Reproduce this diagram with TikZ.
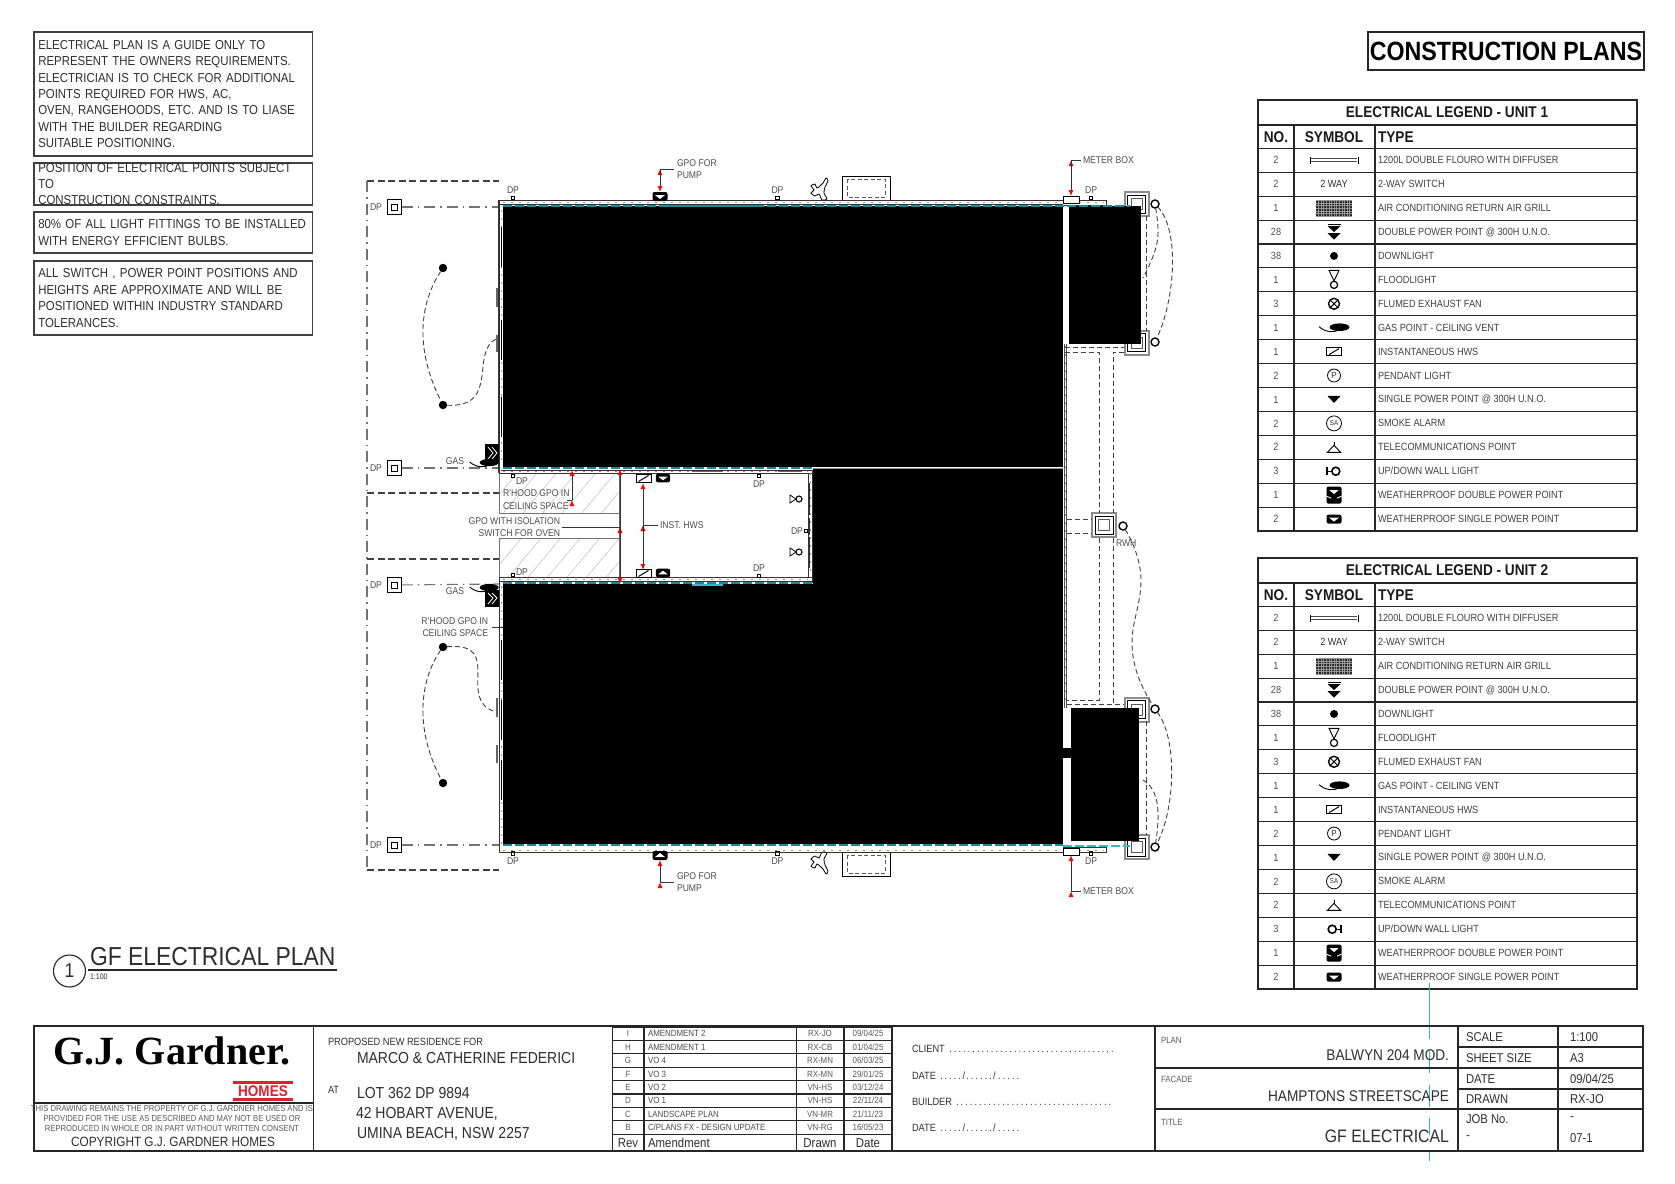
\documentclass[tikz,border=0pt]{standalone}
\usepackage{fontspec}
\setmainfont[FakeStretch=0.88]{Liberation Sans}
\newfontfamily\logofont{Liberation Serif}
\usetikzlibrary{arrows.meta,patterns.meta}
\definecolor{wallteal}{HTML}{1B8A9E}
\definecolor{liteteal}{HTML}{35B8C8}
\definecolor{wallbrown}{HTML}{B98A6A}
\definecolor{logored}{HTML}{E2202C}
\newcommand{\fsz}[1]{\fontsize{#1}{#1}\selectfont}
\newcommand{\dts}[1]{\hbox to #1pt{\dotfill}}
\tikzset{
   every node/.style={inner sep=0pt, outer sep=0pt, text=black!82},
   notebox/.style={draw=black!75, line width=1.2, anchor=north west, align=left,
      minimum width=278.5pt, text width=270pt, inner xsep=4.2pt,
      font=\fontsize{13}{16.4}\selectfont},
   tblline/.style={draw=black!85, line width=1.1},
   thinline/.style={draw=black!85, line width=.9},
   plantext/.style={font=\fsz{9.8}, text=black!70, align=left},
   dplabel/.style={font=\fsz{9.8}, text=black!70},
   dpbox/.style={draw, line width=.9, minimum size=3.5pt},
   dotnode/.style={circle, fill=black, minimum size=8.4pt},
   rwnode/.style={circle, draw, line width=1.4, fill=white, minimum size=8pt},
   yardbox/.style={draw, line width=1, minimum size=14.5pt},
   wiredash/.style={black!75, line width=.9, dash pattern=on 5pt off 3pt},
   yarddash/.style={black!75, line width=1.1, dash pattern=on 7pt off 3.5pt},
   yarddot/.style={black!55, line width=1.1, dash pattern=on 11pt off 5pt on 1.5pt off 5pt},
   walldash/.style={wallbrown, line width=.5, dash pattern=on 2pt off 6pt},
   tealdash/.style={wallteal, line width=1.5, dash pattern=on 9pt off 3pt},
   wall/.style={black!80, line width=.9},
   leader/.style={black!80, line width=1},
   redtip/.style={draw=black!80, line width=1, -{Latex[red,length=6pt,width=5pt]}},
   cellsmall/.style={font=\fsz{9}, text=black!65},
   hatchroom/.style={pattern={Lines[angle=50,distance=15pt,line width=.4pt]}, pattern color=black!30, draw=black!55, line width=.6},
   flouro/.pic={
      \draw[black!70, line width=.9] (-23,-1.5) -- (23,-1.5) (-23,1.5) -- (23,1.5);
      \draw[line width=.9] (-24,-3.5) -- (-24,3.5) (24,-3.5) -- (24,3.5);},
   twoway/.pic={\node (twowaytxt) [font=\fsz{10.4}] {2 WAY};},
   grill/.pic={
      \fill[black!85] (-18,-8) rectangle (18,8);
      \draw[black!40, line width=.3, step=2.6pt] (-18,-8) grid (18,8);},
   dblpower/.pic={
      \fill (-6.5,-8) rectangle (6.5,-7);
      \fill (-6.5,-6) -- (6.5,-6) -- (0,0) -- cycle;
      \fill (-6.5,1) -- (6.5,1) -- (0,7.5) -- cycle;},
   downlight/.pic={\fill (0,0) circle (4);},
   floodlight/.pic={
      \draw[line width=.9] (-5,-9.5) -- (5,-9.5) -- (0,1) -- cycle;
      \draw[line width=1.2] (0,5) circle (3.6);},
   fluefan/.pic={
      \draw[line width=1.4] (0,0) circle (5.5);
      \draw[line width=1] (-3.5,-3.5) -- (3.5,3.5) (-3.5,3.5) -- (3.5,-3.5);},
   gaspt/.pic={
      \fill (5.5,-.5) ellipse (10 and 3.8);
      \draw[line width=.9] (-15,-1) .. controls (-8,5) and (0,5) .. (6,2);},
   hws/.pic={
      \draw[line width=1] (-7.5,-4) rectangle (7.5,4);
      \draw[line width=1] (-5,3) -- (5,-3);},
   pendant/.pic={
      \draw[line width=.8] (0,0) circle (6.5);
      \node (pendanttxt) [font=\fsz{9}] {P};},
   singlept/.pic={\fill (-6.5,-3.5) -- (6.5,-3.5) -- (0,3.5) -- cycle;},
   smokept/.pic={
      \draw[line width=.8] (0,0) circle (7.5);
      \node (smoketxt) [font=\fsz{7}] {SA};},
   telept/.pic={
      \draw[line width=.9] (-6.5,5) -- (6.5,5) -- (0,-2) -- cycle;
      \draw[line width=.9] (0,-2) -- (0,-5);},
   walllight/.pic={
      \begin{scope}[xscale=\wallflip]
      \draw[line width=1.6] (1.8,0) circle (4);
      \draw[line width=1.1] (-7,-4) -- (-7,4) (-7,0) -- (-2,0);
      \end{scope}},
   wpdouble/.pic={
      \fill[rounded corners=2] (-7.5,-8.5) rectangle (7.5,8.5);
      \fill[white] (-4.5,-5) -- (4.5,-5) -- (0,-1) -- cycle;
      \fill[white] (-7.5,.5) -- (-3,2.5) -- (-3,3.5) -- (-7.5,1.5) -- cycle;
      \fill[white] (7.5,.5) -- (3,2.5) -- (3,3.5) -- (7.5,1.5) -- cycle;},
   wpsingle/.pic={
      \fill[rounded corners=2] (-7.5,-4.5) rectangle (7.5,4.5);
      \fill[white] (-5,-1.5) -- (5,-1.5) -- (0,2.5) -- cycle;},
   tapmark/.pic={
      \draw[line width=.8] plot[smooth cycle] coordinates {(-9,-4) (-5,-6) (-3,-2) (3,-7) (6,-12) (8,-9) (5,-3) (4,3) (7,9) (2,10) (-1,4) (-5,6) (-9,3) (-6,0)};},
   colbox/.pic={
      \draw[black!45, line width=2] (-12,-12) rectangle (12,12);
      \draw[line width=1] (-9,-9) rectangle (9,9);
      \draw[black!65, line width=1] (-5.5,-5.5) rectangle (5.5,5.5);},
   acunit/.pic={
      \draw[line width=1] (-24,-12) rectangle (24,12);
      \draw[black!65, line width=.9, dash pattern=on 4pt off 2.5pt] (-19,-9) rectangle (19,9);},
   bowtie/.pic={
      \draw[line width=.8] (-6,-4) -- (-6,4) -- (0,0) -- cycle;
      \draw[line width=1.1] (3,0) circle (3);},
}
\begin{document}
\begin{tikzpicture}[x=1pt, y=-1pt]
   \useasboundingbox (0,0) rectangle (1675,1183);

   \node (noteA) [notebox, minimum height=124pt] at (34,32) {ELECTRICAL PLAN IS A GUIDE ONLY TO\\REPRESENT THE OWNERS REQUIREMENTS.\\ELECTRICIAN IS TO CHECK FOR ADDITIONAL\\POINTS REQUIRED FOR HWS, AC,\\OVEN, RANGEHOODS, ETC. AND IS TO LIASE\\WITH THE BUILDER REGARDING\\SUITABLE POSITIONING.};
   \node (noteB) [notebox, minimum height=41pt] at (34,163) {POSITION OF ELECTRICAL POINTS SUBJECT TO\\CONSTRUCTION CONSTRAINTS.};
   \node (noteC) [notebox, minimum height=41pt] at (34,212) {80\% OF ALL LIGHT FITTINGS TO BE INSTALLED\\WITH ENERGY EFFICIENT BULBS.};
   \node (noteD) [notebox, minimum height=74pt] at (34,261) {ALL SWITCH , POWER POINT POSITIONS AND\\HEIGHTS ARE APPROXIMATE AND WILL BE\\POSITIONED WITHIN INDUSTRY STANDARD\\TOLERANCES.};

   \node (sheettitle) [draw=black!85, line width=1.1, minimum width=276pt, minimum height=38pt, font=\fsz{26.4}\bfseries, text=black] at (1506,51) {CONSTRUCTION PLANS};

   \foreach \dy/\unit/\wallflip in {0/1/1,458/2/-1}{
   \begin{scope}[yshift=-\dy pt]
      \draw[tblline] (1258,100) rectangle (1637,531);
      \draw[tblline] (1258,125) -- (1637,125) (1258,148.3) -- (1637,148.3);
      \draw[tblline] (1294,125) -- (1294,531) (1375,125) -- (1375,531);
      \node (legtitle\unit) [font=\fsz{15.5}\bfseries, text=black!90] at (1447,112.5) {ELECTRICAL LEGEND - UNIT \unit};
      \node (legno\unit) [font=\fsz{15.5}\bfseries, text=black!90] at (1276,136.8) {NO.};
      \node (legsym\unit) [font=\fsz{15.5}\bfseries, text=black!90] at (1334,136.8) {SYMBOL};
      \node (legtype\unit) [font=\fsz{15.5}\bfseries, text=black!90, anchor=west] at (1378,136.8) {TYPE};
      \foreach \cnt/\sym/\kind [count=\r] in {
         2/flouro/1200L DOUBLE FLOURO WITH DIFFUSER,
         2/twoway/2-WAY SWITCH,
         1/grill/AIR CONDITIONING RETURN AIR GRILL,
         28/dblpower/DOUBLE POWER POINT @ 300H U.N.O.,
         38/downlight/DOWNLIGHT,
         1/floodlight/FLOODLIGHT,
         3/fluefan/FLUMED EXHAUST FAN,
         1/gaspt/GAS POINT - CEILING VENT,
         1/hws/INSTANTANEOUS HWS,
         2/pendant/PENDANT LIGHT,
         1/singlept/SINGLE POWER POINT @ 300H U.N.O.,
         2/smokept/SMOKE ALARM,
         2/telept/TELECOMMUNICATIONS POINT,
         3/walllight/{UP/DOWN WALL LIGHT},
         1/wpdouble/WEATHERPROOF DOUBLE POWER POINT,
         2/wpsingle/WEATHERPROOF SINGLE POWER POINT}{
         \pgfmathsetmacro\rowy{148.3+23.92*(\r-.5)}
         \pgfmathsetmacro\rowz{148.3+23.92*\r}
         \draw[tblline] (1258,\rowz) -- (1637,\rowz);
         \node (cnt\unit-\r) [font=\fsz{10.4}, text=black!70] at (1276,\rowy) {\cnt};
         \pic at (1334,\rowy) {\sym};
         \node (kind\unit-\r) [font=\fsz{10.4}, anchor=west, text=black!75] at (1378,\rowy) {\kind};
      }
   \end{scope}
   }

   \draw[liteteal, line width=1.1] (1429.5,983) -- (1429.5,1039) (1429.5,1051) -- (1429.5,1073) (1429.5,1085) -- (1429.5,1107) (1429.5,1118) -- (1429.5,1135) (1429.5,1152) -- (1429.5,1161);

   \coordinate (yardA) at (367,181);
   \coordinate (yardB) at (499,181);
   \coordinate (yardC) at (367,870);
   \coordinate (yardD) at (499,870);
   \draw[yarddash] (yardA) -- (yardB);
   \draw[yarddash] (yardC) -- (yardD);
   \draw[yarddot] (yardA) -- (yardC);
   \draw[yarddash] (367,493) -- (499,493);
   \draw[yarddash] (367,559) -- (499,559);

   \node (boxA) [yardbox] at (394.5,207) {};
   \node (boxB) [yardbox] at (394.5,468) {};
   \node (boxC) [yardbox] at (394.5,585) {};
   \node (boxD) [yardbox] at (394.5,845) {};
   \foreach \nm in {A,B,C,D}{
      \node (inner\nm) [draw, line width=.8, minimum size=6pt] at (box\nm) {};
      \node (dptxt\nm) [dplabel, left of=box\nm, node distance=18.5pt] {DP};
   }
   \draw[yarddot] (boxA) -- (499,207);
   \draw[yarddot] (boxB) -- (499,468);
   \draw[yarddot] (boxC) -- (499,584);
   \draw[yarddot] (boxD) -- (499,845);

   \node (dlA) [dotnode] at (443,268) {};
   \node (dlB) [dotnode] at (443,405) {};
   \node (dlC) [dotnode] at (443,647) {};
   \node (dlD) [dotnode] at (443,783) {};
   \coordinate (swA) at (496,339);
   \coordinate (swB) at (496,712);
   \draw[wiredash] (dlA) .. controls (425,295) and (410,340) .. (dlB);
   \draw[wiredash] (dlC) .. controls (425,672) and (410,720) .. (dlD);
   \draw[wiredash] (dlB) .. controls (500,408) and (470,352) .. (swA);
   \draw[wiredash] (dlC) .. controls (505,642) and (455,700) .. (swB);

   \pic at (1136.5,204) {colbox};
   \pic at (1136.5,342.5) {colbox};
   \pic at (1136.5,709.5) {colbox};
   \pic at (1136.5,847) {colbox};
   \pic at (1104,525) {colbox};

   \pic at (866,188) {acunit};
   \pic at (866,864) {acunit};
   \pic at (820,190) {tapmark};
   \pic[yscale=-1] at (820,862) {tapmark};

   \path[hatchroom] (499,473) rectangle (619,513);
   \path[hatchroom] (499,538) rectangle (619,577);

   \draw[wall] (499,200) -- (1106,200) -- (1106,205) -- (1063,205);
   \draw[wall] (499,204) -- (1063,204);
   \draw[walldash] (503,202) -- (1104,202);
   \draw[wall, line width=1.1] (499,200) -- (499,473);
   \draw[wall] (499,577) -- (499,852) -- (1106,852) -- (1106,847) -- (1063,847);
   \draw[wall] (501,473) -- (812,473) (501,470) -- (812,470);
   \draw[wall] (499,473) -- (501,473);
   \draw[wall] (499,577) -- (812,577) (499,581) -- (812,581);
   \draw[wall] (808,473) -- (808,577) (812,470) -- (812,583);
   \draw[walldash] (503,471.5) -- (808,471.5) (503,579) -- (808,579) (810,473) -- (810,577);
   \draw[walldash] (501,210) -- (501,466) (501,586) -- (501,844) (503,850) -- (1104,850);
   \draw[black!60, line width=1.6] (620,473) -- (620,577);
   \draw[black!60, line width=1.8] (692,471.5) -- (723,471.5) (778,471.5) -- (802,471.5);
   \draw[black!80, line width=1.2] (809.5,483) -- (809.5,515) (809.5,518) -- (809.5,535) (809.5,537) -- (809.5,568);
   \draw[black!70, line width=1] (1064,344) -- (1064,708) (1066.5,344) -- (1066.5,708);
   \draw[walldash] (1065.2,346) -- (1065.2,706);
   \draw[black!60, line width=1.6] (497,288) -- (497,307) (497,335) -- (497,352) (497,698) -- (497,717) (497,745) -- (497,763);

   \fill[black] (503,206) rectangle (1063,467);
   \fill[black] (813,468) rectangle (1063,584);
   \fill[black] (503,584) rectangle (1063,844);
   \fill[black] (1069,206) rectangle (1141,344);
   \fill[black] (1072,708) rectangle (1139,841);
   \draw[black!45, line width=.8] (813,468) -- (1063,468);
   \fill[black] (1063,748) rectangle (1072,758);
   \draw[black, line width=1.1] (1072,708) -- (1072,841);
   \foreach \tick in {227,320,397,640,700,760}{
      \draw[black, line width=1.6] (501.5,\tick) -- +(0,40);
   }

   \draw[tealdash] (503,206) -- (1130,206);
   \draw[wallteal, line width=2] (668,206) -- (764,206);
   \draw[tealdash] (503,845) -- (1063,845);
   \draw[liteteal, line width=1.3, dash pattern=on 9pt off 3pt] (1063,846) -- (1130,846);
   \draw[tealdash] (503,468) -- (813,468);
   \draw[tealdash] (503,583) -- (813,583);
   \draw[liteteal, line width=1.6] (692,585) -- (723,585);

   \node (dpA) [dpbox] at (513,198) {};
   \node (dpAt) [dplabel, above of=dpA, node distance=8pt] {DP};
   \node (dpB) [dpbox] at (777.5,198) {};
   \node (dpBt) [dplabel, above of=dpB, node distance=8pt] {DP};
   \node (dpC) [dpbox] at (1091,198) {};
   \node (dpCt) [dplabel, above of=dpC, node distance=8pt] {DP};
   \node (dpD) [dpbox] at (513,853.5) {};
   \node (dpDt) [dplabel, below of=dpD, node distance=8pt] {DP};
   \node (dpE) [dpbox] at (777.5,853.5) {};
   \node (dpEt) [dplabel, below of=dpE, node distance=8pt] {DP};
   \node (dpF) [dpbox] at (1091,853.5) {};
   \node (dpFt) [dplabel, below of=dpF, node distance=8pt] {DP};
   \node (dpG) [dpbox] at (513,476) {};
   \node (dpGt) [dplabel, right of=dpG, node distance=9pt, yshift=-5pt] {DP};
   \node (dpH) [dpbox] at (513,575) {};
   \node (dpHt) [dplabel, right of=dpH, node distance=9pt, yshift=3pt] {DP};
   \node (dpI) [dpbox] at (759,476) {};
   \node (dpIt) [dplabel, below of=dpI, node distance=8pt] {DP};
   \node (dpJ) [dpbox] at (759,576) {};
   \node (dpJt) [dplabel, above of=dpJ, node distance=8pt] {DP};
   \node (dpK) [dpbox] at (806,531) {};
   \node (dpKt) [dplabel, left of=dpK, node distance=9pt] {DP};

   \pic at (660,196.5) {wpsingle};
   \pic[yscale=-1] at (660,855.5) {wpsingle};
   \coordinate (pumpA) at (660,192);
   \coordinate (pumpB) at (660,169);
   \coordinate (pumpC) at (674,169);
   \coordinate (pumpD) at (660,860);
   \coordinate (pumpE) at (660,882);
   \coordinate (pumpF) at (674,882);
   \draw[leader] (pumpC) -- (pumpB);
   \draw[leader] (pumpF) -- (pumpE);
   \path[redtip] (pumpB) edge (pumpA);
   \path[redtip] (pumpE) edge (pumpD);
   \node (pumptxtA) [plantext, anchor=west] at (677,169) {GPO FOR\\[2pt]PUMP};
   \node (pumptxtB) [plantext, anchor=west] at (677,882.5) {GPO FOR\\[2pt]PUMP};

   \node (meterA) [draw, line width=.9, fill=white, minimum width=16pt, minimum height=7pt] at (1071,199.5) {};
   \node (meterB) [draw, line width=.9, fill=white, minimum width=16pt, minimum height=7pt] at (1071,851.5) {};
   \coordinate (meterbendA) at (1071,160);
   \coordinate (meterendA) at (1081,160);
   \coordinate (meterbendB) at (1071,891);
   \coordinate (meterendB) at (1081,891);
   \draw[leader] (meterendA) -- (meterbendA);
   \draw[leader] (meterendB) -- (meterbendB);
   \path[redtip] (meterbendA) edge (meterA);
   \path[redtip] (meterbendB) edge (meterB);
   \node (metertxtA) [plantext, anchor=west] at (1083,160) {METER BOX};
   \node (metertxtB) [plantext, anchor=west] at (1083,891) {METER BOX};

   \node (rwA) [rwnode] at (1155,204) {};
   \node (rwB) [rwnode] at (1155,342) {};
   \node (rwC) [rwnode] at (1155,709) {};
   \node (rwD) [rwnode] at (1155,847) {};
   \node (rwE) [rwnode] at (1123,526) {};
   \node (rwtxt) [plantext, anchor=west] at (1116,543) {RWH};
   \coordinate (rwjoinA) at (1143,278);
   \coordinate (rwjoinB) at (1143,780);
   \coordinate (rwbendA) at (1141,580);
   \coordinate (rwbendB) at (1132,643);
   \draw[wiredash] (rwA) .. controls (1180,230) and (1175,300) .. (rwB);
   \draw[wiredash] (rwA) .. controls (1160,235) and (1160,245) .. (rwjoinA);
   \draw[wiredash] (rwC) .. controls (1178,740) and (1175,810) .. (rwD);
   \draw[wiredash] (rwjoinB) .. controls (1160,790) and (1160,815) .. (rwD);
   \draw[wiredash] (rwE) .. controls (1135,545) and (1141,565) .. (rwbendA) .. controls (1141,605) and (1132,620) .. (rwbendB) .. controls (1132,665) and (1140,685) .. (rwC);
   \draw[wiredash] (1146,216) -- (1146,331);
   \draw[wiredash] (1146,721) -- (1146,835);
   \draw[wiredash] (1065,347) -- (1124,347);
   \draw[wiredash] (1065,352) -- (1099,352) -- (1099,513);
   \draw[wiredash] (1124,352) -- (1113,352) -- (1113,513);
   \draw[wiredash] (1067,519) -- (1092,519) (1067,533) -- (1092,533);
   \draw[wiredash] (1099,538) -- (1099,700) -- (1067,700);
   \draw[wiredash] (1113,538) -- (1113,704);
   \draw[wiredash] (1067,704) -- (1124,704);

   \pic at (643.5,478.5) {hws};
   \pic at (643.5,573.5) {hws};
   \pic[scale=.95] at (663,478) {wpsingle};
   \pic[scale=.95, yscale=-1] at (663,573) {wpsingle};
   \pic at (796,499) {bowtie};
   \pic at (796,552) {bowtie};

   \coordinate (rhoodA) at (572,470);
   \coordinate (rhoodB) at (572,500);
   \coordinate (rhoodC) at (567,500);
   \draw[leader] (rhoodC) -- (rhoodB);
   \path[redtip] (rhoodB) edge (rhoodA);
   \node (rhoodtxt) [plantext, anchor=north west] at (503,490) {R'HOOD GPO IN\\[2.4pt]CEILING SPACE};
   \coordinate (ovenA) at (562,527);
   \coordinate (ovenB) at (620,527);
   \coordinate (ovenC) at (620,469);
   \coordinate (ovenD) at (620,584);
   \draw[leader] (ovenA) -- (ovenB);
   \path[redtip] (ovenB) edge (ovenC);
   \path[redtip] (ovenB) edge (ovenD);
   \node (oventxt) [plantext, align=right, anchor=east] at (560,527) {GPO WITH ISOLATION\\[2.4pt]SWITCH FOR OVEN};
   \coordinate (instA) at (643,525);
   \coordinate (instB) at (643,483);
   \coordinate (instC) at (643,570);
   \coordinate (instD) at (658,525);
   \draw[leader] (instD) -- (instA);
   \path[redtip] (instA) edge (instB);
   \path[redtip] (instA) edge (instC);
   \node (insttxt) [plantext, anchor=west] at (660,525) {INST. HWS};

   \fill[black] (485,444) rectangle (499,463);
   \fill[black] (485,590) rectangle (499,607);
   \draw[white, line width=.8] (488,447) -- (493,453) -- (488,459) (492,447) -- (497,453) -- (492,459);
   \draw[white, line width=.8] (488,593) -- (493,598) -- (488,604) (492,593) -- (497,598) -- (492,604);
   \pic[scale=.95] at (484,463) {gaspt};
   \pic[scale=.95] at (484,588) {gaspt};
   \node (gastxtA) [dplabel] at (455,461) {GAS};
   \node (gastxtB) [dplabel] at (455,591) {GAS};
   \node (rhoodtxtB) [plantext, align=right, anchor=east] at (488,627) {R'HOOD GPO IN\\[2.4pt]CEILING SPACE};
   \draw[leader] (rhoodtxtB.east) ++(4,0) -- (503,627);

   \coordinate (planruleA) at (88,970);
   \coordinate (planruleB) at (337,970);
   \draw[black!85, line width=1.1] (planruleA) -- (planruleB);
   \node (plancircle) [circle, draw=black!85, line width=1.1, minimum size=32pt, font=\fsz{20}] at (69.5,971) {1};
   \node (plantitle) [font=\fsz{26}, anchor=base west] at (90,965) {GF ELECTRICAL PLAN};
   \node (planscale) [font=\fsz{8}, anchor=west] at (90,977) {1:100};

   \draw[black!85, line width=1.4] (34,1026) rectangle (1643,1151);
   \draw[tblline] (313.5,1026) -- (313.5,1151) (34,1103) -- (313.5,1103);
   \node (logo) [font=\logofont\fsz{40}\bfseries, text=black, anchor=base] at (172,1064) {G.J. Gardner.};
   \fill[logored] (232.5,1080.5) rectangle (293,1083.5);
   \fill[logored] (232.5,1097.5) rectangle (293,1100.5);
   \node (homes) [font=\fsz{15.4}\bfseries, text=logored] at (263,1091) {HOMES};
   \node (rights) [font=\fontsize{8.7}{10}\selectfont, text=black!65, align=center, anchor=north] at (172,1105.5) {THIS DRAWING REMAINS THE PROPERTY OF G.J. GARDNER HOMES AND IS\\PROVIDED FOR THE USE AS DESCRIBED AND MAY NOT BE USED OR\\REPRODUCED IN WHOLE OR IN PART WITHOUT WRITTEN CONSENT};
   \node (copyr) [font=\fsz{13.4}] at (173,1142) {COPYRIGHT G.J. GARDNER HOMES};

   \node (residence) [font=\fsz{10.5}, anchor=west] at (328,1042) {PROPOSED NEW RESIDENCE FOR};
   \node (clients) [font=\fsz{15.9}, anchor=west] at (357,1058) {MARCO \& CATHERINE FEDERICI};
   \node (attxt) [font=\fsz{10.5}, anchor=west] at (328,1090) {AT};
   \node (addrA) [font=\fsz{15.9}, anchor=west] at (357,1093) {LOT 362 DP 9894};
   \node (addrB) [font=\fsz{15.9}, anchor=west] at (356,1114) {42 HOBART AVENUE,};
   \node (addrC) [font=\fsz{15.9}, anchor=west] at (357,1134) {UMINA BEACH, NSW 2257};

   \draw[tblline] (612.5,1027) -- (612.5,1151) (644,1027) -- (644,1151) (796.5,1027) -- (796.5,1151) (844,1027) -- (844,1151) (892,1026) -- (892,1151);
   \foreach \rv/\amend/\who/\when [count=\r] in {
      I/AMENDMENT 2/RX-JO/{09/04/25},
      H/AMENDMENT 1/RX-CB/{01/04/25},
      G/VO 4/RX-MN/{06/03/25},
      F/VO 3/RX-MN/{29/01/25},
      E/VO 2/VN-HS/{03/12/24},
      D/VO 1/VN-HS/{22/11/24},
      C/LANDSCAPE PLAN/VN-MR/{21/11/23},
      B/{C/PLANS FX - DESIGN UPDATE}/VN-RG/{16/05/23}}{
      \pgfmathsetmacro\revy{1027+13.4*(\r-.5)}
      \pgfmathsetmacro\revz{1027+13.4*\r}
      \draw[tblline] (612.5,\revz) -- (892,\revz);
      \node (rv\r) [font=\fsz{9}, text=black!65] at (628,\revy) {\rv};
      \node (am\r) [font=\fsz{9}, text=black!70, anchor=west] at (648,\revy) {\amend};
      \node (wh\r) [font=\fsz{9}, text=black!65] at (820,\revy) {\who};
      \node (wn\r) [font=\fsz{9}, text=black!65] at (868,\revy) {\when};
   }
   \draw[tblline] (612.5,1027) -- (892,1027);
   \node (revhd) [font=\fsz{13}] at (628,1143) {Rev};
   \node (amhd) [font=\fsz{13}, anchor=west] at (648,1143) {Amendment};
   \node (whhd) [font=\fsz{13}] at (820,1143) {Drawn};
   \node (wnhd) [font=\fsz{13}] at (868,1143) {Date};

   \node (clientln) [font=\fsz{10.5}, anchor=west] at (912,1049) {CLIENT \dts{168}};
   \node (dateA) [font=\fsz{10.5}, anchor=west] at (912,1076) {DATE \dts{24}/\dts{28}/\dts{26}};
   \node (builderln) [font=\fsz{10.5}, anchor=west] at (912,1102) {BUILDER \dts{158}};
   \node (dateB) [font=\fsz{10.5}, anchor=west] at (912,1128) {DATE \dts{24}/\dts{28}/\dts{26}};

   \draw[black!85, line width=1.8] (1155,1026) -- (1155,1151);
   \draw[tblline] (1155,1068) -- (1458,1068) (1155,1109) -- (1458,1109);
   \draw[tblline] (1458,1026) -- (1458,1151) (1558,1026) -- (1558,1151);
   \draw[tblline] (1458,1047) -- (1643,1047) (1458,1068) -- (1643,1068) (1458,1089) -- (1643,1089) (1458,1109) -- (1643,1109);
   \node (plancap) [cellsmall, anchor=west] at (1161,1040) {PLAN};
   \node (facadecap) [cellsmall, anchor=west] at (1161,1079) {FACADE};
   \node (titlecap) [cellsmall, anchor=west] at (1161,1122) {TITLE};
   \node (planval) [font=\fsz{15.5}, anchor=east] at (1449,1055) {BALWYN 204 MOD.};
   \node (facadeval) [font=\fsz{15.5}, anchor=east] at (1449,1096) {HAMPTONS STREETSCAPE};
   \node (titleval) [font=\fsz{18}, anchor=east] at (1449,1136) {GF ELECTRICAL};
   \foreach \cap/\val/\cy in {SCALE/1:100/1037, SHEET SIZE/A3/1058, DATE/{09/04/25}/1079, DRAWN/RX-JO/1099, JOB No./-/1119}{
      \node (cap\cy) [font=\fsz{12.8}, anchor=west] at (1466,\cy) {\cap};
      \node (val\cy) [font=\fsz{12.8}, anchor=west] at (1570,\cy) {\val};
   }
   \node (jobval) [font=\fsz{12.8}, anchor=west] at (1466,1138) {-};
   \node (dwgval) [font=\fsz{12.8}, anchor=west] at (1570,1138) {07-1};
\end{tikzpicture}
\end{document}
